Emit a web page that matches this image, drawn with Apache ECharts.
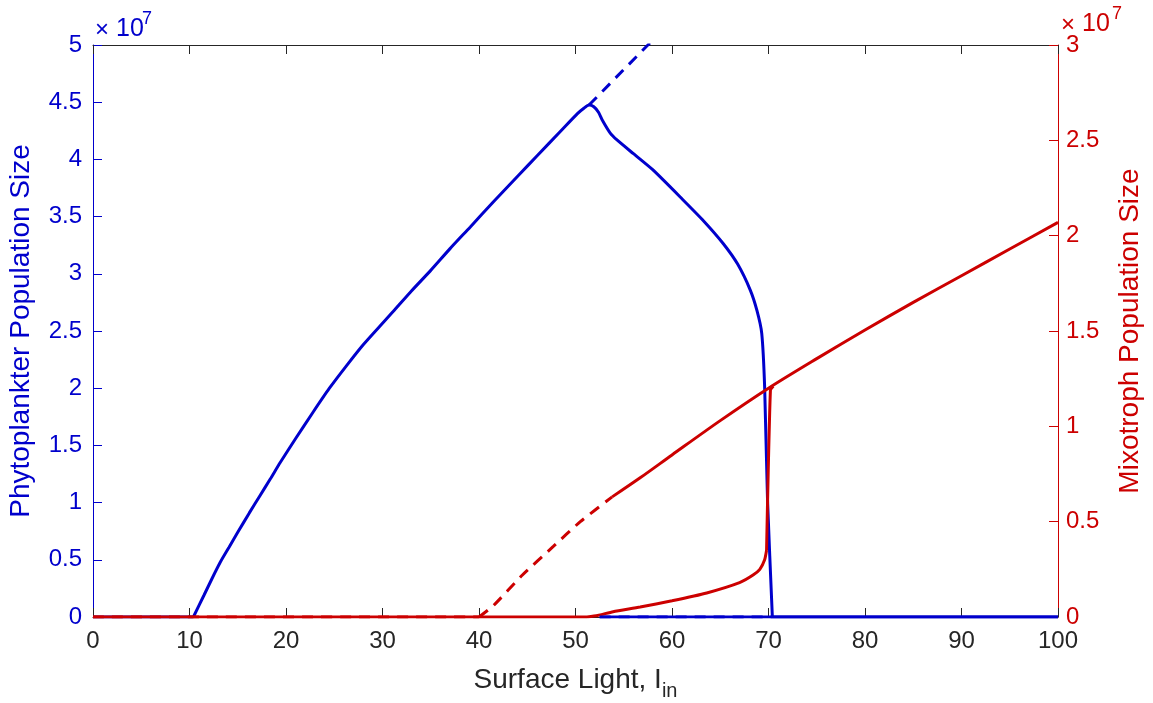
<!DOCTYPE html>
<html>
<head>
<meta charset="utf-8">
<script src="https://cdn.jsdelivr.net/npm/echarts@6/dist/echarts.min.js"></script>
<style>
  html, body { margin: 0; padding: 0; background: #fff; }
  #chart { width: 1153px; height: 703px; }
</style>
</head>
<body>
<div id="chart"></div>
<script>
// values in units of 1e7
var xTicks = [0, 10, 20, 30, 40, 50, 60, 70, 80, 90, 100];
var leftTicks = [0, 0.5, 1, 1.5, 2, 2.5, 3, 3.5, 4, 4.5, 5];
var rightTicks = [0, 0.5, 1, 1.5, 2, 2.5, 3];

// phytoplankter, stable branch (null splits straight parts from the curve)
var phytoSolid = [
  [0, 0], [10.4, 0], null,
  [10.4, 0], [11.5, 0.19], [12.3, 0.33], [13.2, 0.48], [14.1, 0.61],
  [15, 0.74], [16.2, 0.91], [17.3, 1.06], [18.4, 1.21], [19.4, 1.35],
  [21, 1.56], [22.8, 1.79], [24.5, 2.0], [26.3, 2.2], [28, 2.38],
  [29.7, 2.54], [31.1, 2.67], [33, 2.85], [35, 3.03], [37, 3.22],
  [39.1, 3.41], [41.5, 3.63], [44.2, 3.87], [46, 4.03], [48.5, 4.25],
  [50.2, 4.4], [50.9, 4.45], [51.4, 4.475], [51.9, 4.46], [52.4, 4.41],
  [52.8, 4.34], [53.6, 4.23], [54.3, 4.17], [56, 4.05], [58, 3.91],
  [61.1, 3.65], [63.3, 3.46], [65.3, 3.265], [66.8, 3.085], [68.1, 2.86],
  [68.8, 2.68], [69.3, 2.48], [69.6, 2.01], [69.9, 1.02], [70.4, 0], null,
  [70.4, 0], [100, 0]
];
// phytoplankter, unstable branches
var phytoDashed = [
  [51.4, 4.475], [57.5, 5.0], [59, 5.13], null,
  [52.5, 0], [70.4, 0]
];
// mixotroph, lower stable branch
var mixoLower = [
  [0, 0], [51.2, 0], null,
  [51.2, 0], [52.3, 0.008], [53.9, 0.028], [56.7, 0.052], [60, 0.085],
  [63.6, 0.126], [67, 0.18], [68.4, 0.22], [69.1, 0.25], [69.6, 0.3],
  [69.8, 0.35], null,
  [69.8, 0.35], [70.2, 1.19], [70.5, 1.21]
];
// mixotroph, unstable branch
var mixoDashed = [
  [0, 0], [40, 0], null,
  [40, 0], [41.5, 0.06], [44.5, 0.22], [47.7, 0.37], [50.5, 0.5], [53.8, 0.63]
];
// mixotroph, upper stable branch
var mixoUpper = [
  [53.8, 0.63], [56.7, 0.73], [60, 0.85], [65, 1.03], [70, 1.2],
  [75, 1.355], [80, 1.505], [85, 1.65], [90, 1.79], [95, 1.93], [100, 2.07]
];

var blue = "#0000cc";
var red = "#cc0000";
var grey = "#262626";
var font = "Liberation Sans";

function lineSeries(name, data, yIndex, color, dashed, smooth) {
  return {
    name: name,
    type: "line",
    xAxisIndex: 0,
    yAxisIndex: yIndex,
    data: data,
    showSymbol: false,
    smooth: smooth,
    connectNulls: false,
    clip: true,
    lineStyle: { color: color, width: 3, type: dashed ? [11, 8] : "solid" }
  };
}

var myChart = echarts.init(document.getElementById("chart"));
var option = {
  backgroundColor: "#fff",
  animation: false,
  grid: { left: 93, right: 95, top: 45, bottom: 86, outerBoundsMode: "none", containLabel: false },
  xAxis: [
    {
      type: "value",
      min: 0,
      max: 100,
      interval: 10,
      name: "{a|Surface Light, I}{s|in}",
      nameLocation: "middle",
      nameGap: 42,
      nameTextStyle: {
        rich: {
          a: { fontFamily: font, fontSize: 28, color: grey },
          s: { fontFamily: font, fontSize: 20, color: grey, padding: [22, 0, 0, 0] }
        }
      },
      axisLine: { show: true, onZero: false, lineStyle: { color: grey, width: 1 } },
      axisTick: { show: true, inside: true, length: 9, lineStyle: { color: grey } },
      axisLabel: {
        fontFamily: font, fontSize: 24, color: grey, margin: 12,
        formatter: function (v) { return xTicks.indexOf(v) >= 0 ? String(v) : ""; }
      },
      splitLine: { show: false }
    },
    {
      type: "value",
      position: "top",
      min: 0,
      max: 100,
      interval: 10,
      axisLine: { show: true, onZero: false, lineStyle: { color: grey, width: 1 } },
      axisTick: { show: true, inside: true, length: 9, lineStyle: { color: grey } },
      axisLabel: { show: false },
      splitLine: { show: false }
    }
  ],
  yAxis: [
    {
      type: "value",
      min: 0,
      max: 5,
      interval: 0.5,
      name: "Phytoplankter Population Size",
      nameLocation: "middle",
      nameGap: 58,
      nameTextStyle: { fontFamily: font, fontSize: 28, color: blue },
      axisLine: { show: true, onZero: false, lineStyle: { color: blue, width: 1 } },
      axisTick: { show: true, inside: true, length: 9, lineStyle: { color: blue } },
      axisLabel: {
        fontFamily: font, fontSize: 24, color: blue, margin: 11,
        formatter: function (v) { return leftTicks.indexOf(v) >= 0 ? String(v) : ""; }
      },
      splitLine: { show: false }
    },
    {
      type: "value",
      position: "right",
      min: 0,
      max: 3,
      interval: 0.5,
      name: "Mixotroph Population Size",
      nameLocation: "middle",
      nameGap: 58,
      nameRotate: 90,
      nameTextStyle: { fontFamily: font, fontSize: 28, color: red },
      axisLine: { show: true, onZero: false, lineStyle: { color: red, width: 1 } },
      axisTick: { show: true, inside: true, length: 9, lineStyle: { color: red } },
      axisLabel: {
        fontFamily: font, fontSize: 24, color: red, margin: 8,
        formatter: function (v) { return rightTicks.indexOf(v) >= 0 ? String(v) : ""; }
      },
      splitLine: { show: false }
    }
  ],
  graphic: [
    { type: "text", x: 95, y: 18, style: { text: "×", fontFamily: font, fontSize: 24, fill: blue } },
    { type: "text", x: 116, y: 17, style: { text: "10", fontFamily: font, fontSize: 25, fill: blue } },
    { type: "text", x: 142, y: 10, style: { text: "7", fontFamily: font, fontSize: 18, fill: blue } },
    { type: "text", x: 1061, y: 13, style: { text: "×", fontFamily: font, fontSize: 24, fill: red } },
    { type: "text", x: 1082, y: 12, style: { text: "10", fontFamily: font, fontSize: 25, fill: red } },
    { type: "text", x: 1112, y: 5, style: { text: "7", fontFamily: font, fontSize: 18, fill: red } }
  ],
  series: [
    lineSeries("phytoSolid", phytoSolid, 0, blue, false, 0.2),
    lineSeries("phytoDashed", phytoDashed, 0, blue, true, false),
    lineSeries("mixoDashed", mixoDashed, 1, red, true, 0.2),
    lineSeries("mixoLower", mixoLower, 1, red, false, 0.2),
    lineSeries("mixoUpper", mixoUpper, 1, red, false, 0.3),
    lineSeries("phytoZero", [[52.5, 0], [100, 0]], 0, blue, false, false)
  ]
};
window.onresize = function () {
  myChart.resize();
};
myChart.setOption(option);
</script>
</body>
</html>
